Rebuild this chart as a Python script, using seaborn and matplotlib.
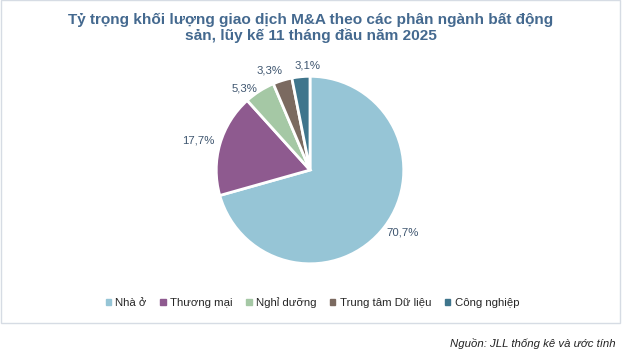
import matplotlib
matplotlib.use('Agg')
import matplotlib.pyplot as plt
import seaborn as sns
from matplotlib.patches import Rectangle

# data
categories = ["Nhà ở", "Thương mại", "Nghỉ dưỡng", "Trung tâm Dữ liệu", "Công nghiệp"]
shares = [70.7, 17.7, 5.3, 3.3, 3.1]
colors = ["#96C5D6", "#8E5A8F", "#A5C8A5", "#7B6A60", "#3F758C"]

sns.set_theme(style="white")
plt.rcParams['font.family'] = ['Liberation Sans', 'DejaVu Sans']

fig = plt.figure(figsize=(6.25, 3.55), dpi=100)
# pie radius ~94 px, centre ~(310, 170)
ax = fig.add_axes([0.301, 0.177, 0.39, 0.688])

wedges, texts = ax.pie(
    shares, colors=colors, startangle=90, counterclock=False,
    wedgeprops=dict(edgecolor="white", linewidth=2),
    labels=[f"{v:.1f}%".replace(".", ",") for v in shares],
    textprops=dict(color="#3F5670", fontsize=8.2),
)
ax.set_xlim(-1.3, 1.3)
ax.set_ylim(-1.3, 1.3)
ax.set_aspect("equal")

# label positions (in radius units), as in the reference
label_pos = [(0.99, -0.67), (-1.19, 0.31), (-0.70, 0.87), (-0.43, 1.06), (-0.03, 1.11)]
for t, p in zip(texts, label_pos):
    t.set_position(p)
    t.set_ha("center")
    t.set_va("center")

fig.text(0.497, 0.965, "Tỷ trọng khối lượng giao dịch M&A theo các phân ngành bất động\nsản, lũy kế 11 tháng đầu năm 2025",
         ha="center", va="top", fontsize=11.1, fontweight="bold", color="#44698F", linespacing=1.1)

handles = [Rectangle((0, 0), 1, 1, color=c) for c in colors]
fig.legend(handles, categories, loc="center", bbox_to_anchor=(0.5, 0.147), ncol=5,
           frameon=False, fontsize=8.2, handlelength=0.45, handleheight=0.45,
           handletextpad=0.4, columnspacing=1.2)

# chart area border
fig.patches.append(Rectangle((0.002, 0.09), 0.99, 0.91, transform=fig.transFigure,
                             fill=False, edgecolor="#D6DCE4", linewidth=1))

fig.text(0.985, 0.033, "Nguồn: JLL thống kê và ước tính", ha="right", va="center",
         fontsize=8.2, style="italic", color="#222222")

fig.savefig("out.png", dpi=100)
